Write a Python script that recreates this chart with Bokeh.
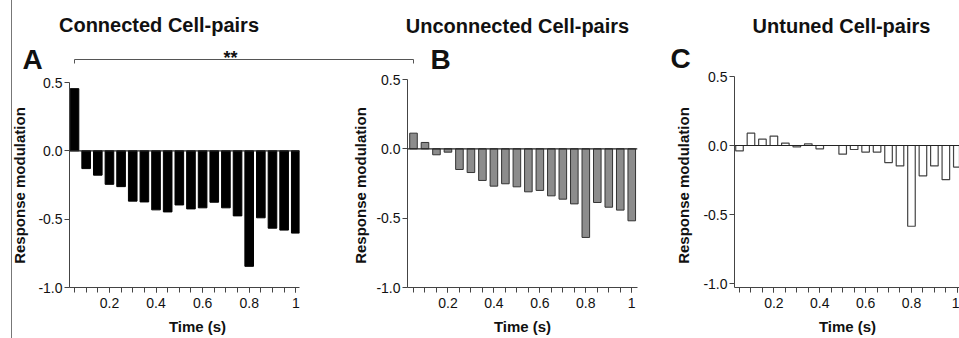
import math
from bokeh.plotting import figure
from bokeh.layouts import row
from bokeh.models import Range1d, FixedTicker, Span, ColumnDataSource
from bokeh.core.properties import value
from bokeh.embed import file_html
from bokeh.resources import INLINE

# ---------------- data ----------------
times = [0.05, 0.10, 0.15, 0.20, 0.25, 0.30, 0.35, 0.40, 0.45, 0.50,
         0.55, 0.60, 0.65, 0.70, 0.75, 0.80, 0.85, 0.90, 0.95, 1.00]
connected = [0.455, -0.13, -0.178, -0.245, -0.262, -0.368, -0.374, -0.432, -0.447, -0.396,
             -0.425, -0.417, -0.376, -0.417, -0.476, -0.845, -0.49, -0.566, -0.58, -0.602]
unconnected = [0.113, 0.046, -0.043, -0.024, -0.149, -0.171, -0.228, -0.269, -0.252, -0.274,
               -0.31, -0.30, -0.339, -0.363, -0.397, -0.639, -0.387, -0.421, -0.442, -0.519]
untuned = [-0.039, 0.089, 0.046, 0.068, 0.017, -0.01, 0.012, -0.024, 0.0, -0.063,
           -0.029, -0.048, -0.048, -0.124, -0.148, -0.585, -0.22, -0.148, -0.248, -0.156]
x_major_ticks = [0.2, 0.4, 0.6, 0.8, 1.0]
x_tick_labels = ["0.2", "0.4", "0.6", "0.8", "1"]
y_ticks = [-1.0, -0.5, 0.0, 0.5]
y_tick_labels = ["-1.0", "-0.5", "0.0", "0.5"]
titles = ["Connected Cell-pairs", "Unconnected Cell-pairs", "Untuned Cell-pairs"]
letters = ["A", "B", "C"]
signif = "**"
y_label = "Response modulation"
x_label = "Time (s)"

FONT = "Liberation Sans"
H = 338                    # figure height (page pixels)
FT, FB = 76, 287           # common frame top / bottom rows (a row aligns them)
AX = "#444444"
TXT = "#111111"
Y_LO, Y_HI = -1.0, 0.5


def make_panel(cl, cr, fl, fr, yt, yb, x0, x1, vals, fill, line, bw, lw):
    # yt / yb: pixel rows where 0.5 and -1.0 sit in this panel
    sy = (Y_HI - Y_LO) / (yb - yt)
    r_hi = Y_HI + (yt - FT) * sy
    r_lo = Y_LO - (FB - yb) * sy
    p = figure(width=cr - cl, height=H,
               x_range=Range1d(x0, x1), y_range=Range1d(r_lo, r_hi),
               output_backend="svg", toolbar_location=None,
               min_border_left=fl - cl, min_border_right=cr - fr,
               min_border_top=FT, min_border_bottom=H - FB)
    p.outline_line_color = None
    p.xgrid.grid_line_color = None
    p.ygrid.grid_line_color = None
    p.background_fill_color = "white"
    p.border_fill_color = "white"

    src = ColumnDataSource(dict(t=times, v=vals))
    p.vbar(x="t", top="v", bottom=0, width=bw, source=src,
           fill_color=fill, line_color=line, line_width=lw)
    p.add_layout(Span(location=0, dimension="width", line_color="#222222", line_width=1.2))

    for ax in (p.xaxis[0], p.yaxis[0]):
        ax.axis_line_color = AX
        ax.axis_line_width = 1
        ax.major_tick_line_color = AX
        ax.minor_tick_line_color = AX
        ax.major_tick_out = 5
        ax.major_tick_in = 0
        ax.minor_tick_out = 5
        ax.minor_tick_in = 0
        ax.major_label_text_font = FONT
        ax.major_label_text_font_size = "14px"
        ax.major_label_text_color = TXT

    p.xaxis.ticker = FixedTicker(ticks=x_major_ticks, minor_ticks=times)
    p.xaxis.major_label_overrides = dict(zip(x_major_ticks, x_tick_labels))
    p.xaxis.major_label_standoff = 5

    p.yaxis.ticker = FixedTicker(ticks=y_ticks, minor_ticks=[])
    p.yaxis.major_label_overrides = dict(zip(y_ticks, y_tick_labels))
    p.yaxis.major_label_standoff = 2
    # the y axis line runs from the x axis up to 0.5
    p.yaxis.bounds = (r_lo, Y_HI)

    def to_data(rx, ry):
        x = x0 + (rx - fl) * (x1 - x0) / (fr - fl)
        y = Y_HI - (ry - yt) * sy
        return x, y
    return p, to_data


pA, dA = make_panel(0, 338, 69, 299, 82, 287, 0.0285, 1.016, connected,
                    "black", "black", 0.037, 1)
pB, dB = make_panel(338, 662, 407, 637, 79, 287, 0.0239, 1.025, unconnected,
                    "#8c8c8c", "#333333", 0.033, 1)
pC, dC = make_panel(662, 959, 734, 959, 76, 283, 0.0282, 1.0095, untuned,
                    "white", "#444444", 0.033, 1.2)


def add_text(p, conv, rx, ry, text, size, align="left", baseline="alphabetic",
             style="bold", angle=0.0):
    x, y = conv(rx, ry)
    p.text(x=[x], y=[y], text=[text], text_font=value(FONT), text_font_size=value(size),
           text_font_style=value(style), text_align=value(align),
           text_baseline=value(baseline), text_color=TXT, angle=angle, level="overlay")


# panel titles, letters, significance mark
add_text(pA, dA, 158.5, 24, titles[0], "20px", align="center")
add_text(pB, dB, 517, 25, titles[1], "20px", align="center")
add_text(pC, dC, 841, 25, titles[2], "20px", align="center")
add_text(pA, dA, 22, 59, letters[0], "28px")
add_text(pB, dB, 430, 59, letters[1], "28px")
add_text(pC, dC, 670, 58, letters[2], "28px")
add_text(pA, dA, 230, 57, signif, "18px", align="center")

# axis titles
for p, conv, yx, xx in ((pA, dA, 19, 197), (pB, dB, 360, 522), (pC, dC, 683, 847)):
    add_text(p, conv, yx, 185, y_label, "15px", align="center", baseline="middle",
             angle=math.pi / 2)
    add_text(p, conv, xx, 326, x_label, "15px", align="center", baseline="middle")


# significance bracket (spans panels A and B) and the left rule
def seg(p, conv, pts, color, width):
    xs, ys = zip(*[conv(a, b) for a, b in pts])
    p.line(list(xs), list(ys), line_color=color, line_width=width, level="overlay")


seg(pA, dA, [(74, 63), (74, 59), (345, 59)], "#555555", 1)
seg(pB, dB, [(330, 59), (413, 59), (413, 63)], "#555555", 1)
seg(pA, dA, [(11, -5), (11, 345)], "#777777", 1)

layout = row(pA, pB, pC)
open("out.html", "w").write(file_html(layout, INLINE))
